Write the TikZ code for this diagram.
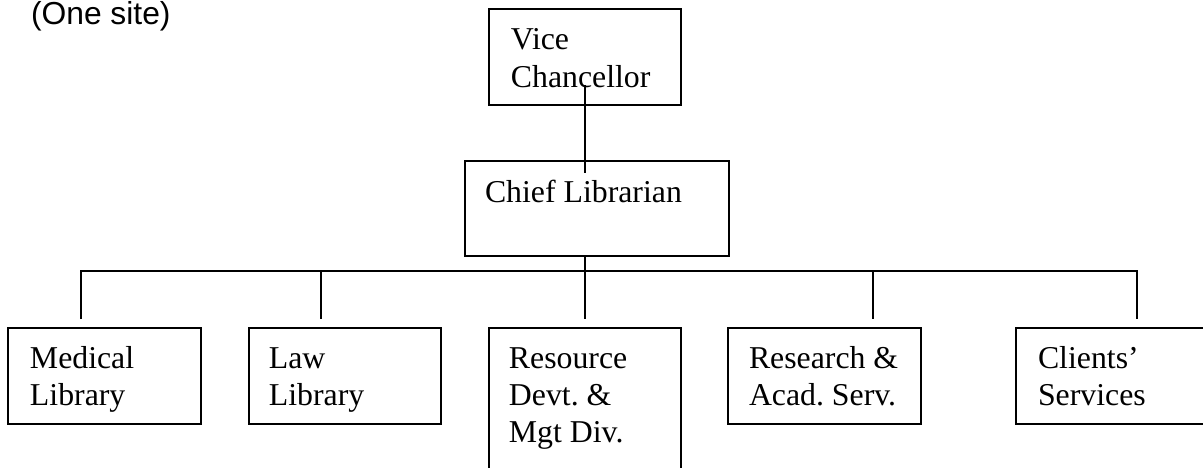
\documentclass[tikz,border=0pt]{standalone}
\usepackage{fontspec}
\setmainfont{Liberation Serif}
\newfontfamily\arialf{Liberation Sans}
\usetikzlibrary{calc}
\frenchspacing
\tikzset{
  boxst/.style={draw, line width=0.6pt, inner sep=0pt, outer sep=0pt, minimum width=72.5pt, minimum height=36.23pt},
  txt/.style={anchor=base west, inner sep=0pt, outer sep=0pt, font=\fontsize{12}{14}\selectfont},
  conn/.style={line width=0.6pt}
}
\newcommand\twolines[2]{\begin{tabular}[t]{@{}l@{}}#1\\#2\end{tabular}}
\newcommand\threelines[3]{\begin{tabular}[t]{@{}l@{}}#1\\#2\\#3\end{tabular}}
\begin{document}
\begin{tikzpicture}[x=0.3774pt, y=-0.3774pt]
\useasboundingbox (0,0) rectangle (1203,468);
\clip (0,0) rectangle (1203,468);
\fill[white] (0,0) rectangle (1203,468);
\node[txt, font=\arialf\fontsize{12}{14}\selectfont] (site) at (31,25) {(One site)};
% boxes
\node[boxst] (vc) at (585,57) {};
\node[boxst, minimum width=99.63pt, minimum height=35.85pt] (chief) at (597,208.5) {};
\node[boxst, minimum width=72.84pt] (med) at (104.5,376) {};
\node[boxst] (law) at (345,376) {};
\node[boxst, minimum height=57.36pt] (res) at (585,404) {};
\node[boxst, minimum width=72.84pt] (rsch) at (824.5,376) {};
\node[boxst, minimum width=73.2pt] (cli) at (1113,376) {};
% texts
\node[txt] (vct) at ($(vc.north west)+(22,41)$) {\twolines{Vice}{Chancellor}};
\node[txt] (cht) at ($(chief.north west)+(20,41)$) {Chief Librarian};
\node[txt] (medt) at ($(med.north west)+(22,40)$) {\twolines{Medical}{Library}};
\node[txt] (lawt) at ($(law.north west)+(20,40)$) {\twolines{Law}{Library}};
\node[txt] (rest) at ($(res.north west)+(20,40)$) {\threelines{Resource}{Devt. \&}{Mgt Div.}};
\node[txt] (rscht) at ($(rsch.north west)+(21,40)$) {\twolines{Research \&}{Acad. Serv.}};
\node[txt] (clit) at ($(cli.north west)+(22,40)$) {\twolines{Clients’}{Services}};
% connector coordinates
\coordinate (vcA) at (585,85);
\coordinate (chB) at (585,173);
\coordinate (chC) at (585,256);
\coordinate (busL) at (81,271);
\coordinate (busR) at (1137,271);
\coordinate (medT) at (81,319);
\coordinate (lawB) at (321,271);
\coordinate (lawT) at (321,319);
\coordinate (resT) at (585,319);
\coordinate (rschB) at (873,271);
\coordinate (rschT) at (873,319);
\coordinate (cliT) at (1137,319);
\draw[conn] (vcA) -- (chB);
\draw[conn] (chC) -- (resT);
\draw[conn] (medT) -- (busL) -- (busR) -- (cliT);
\draw[conn] (lawB) -- (lawT);
\draw[conn] (rschB) -- (rschT);
\end{tikzpicture}
\end{document}
